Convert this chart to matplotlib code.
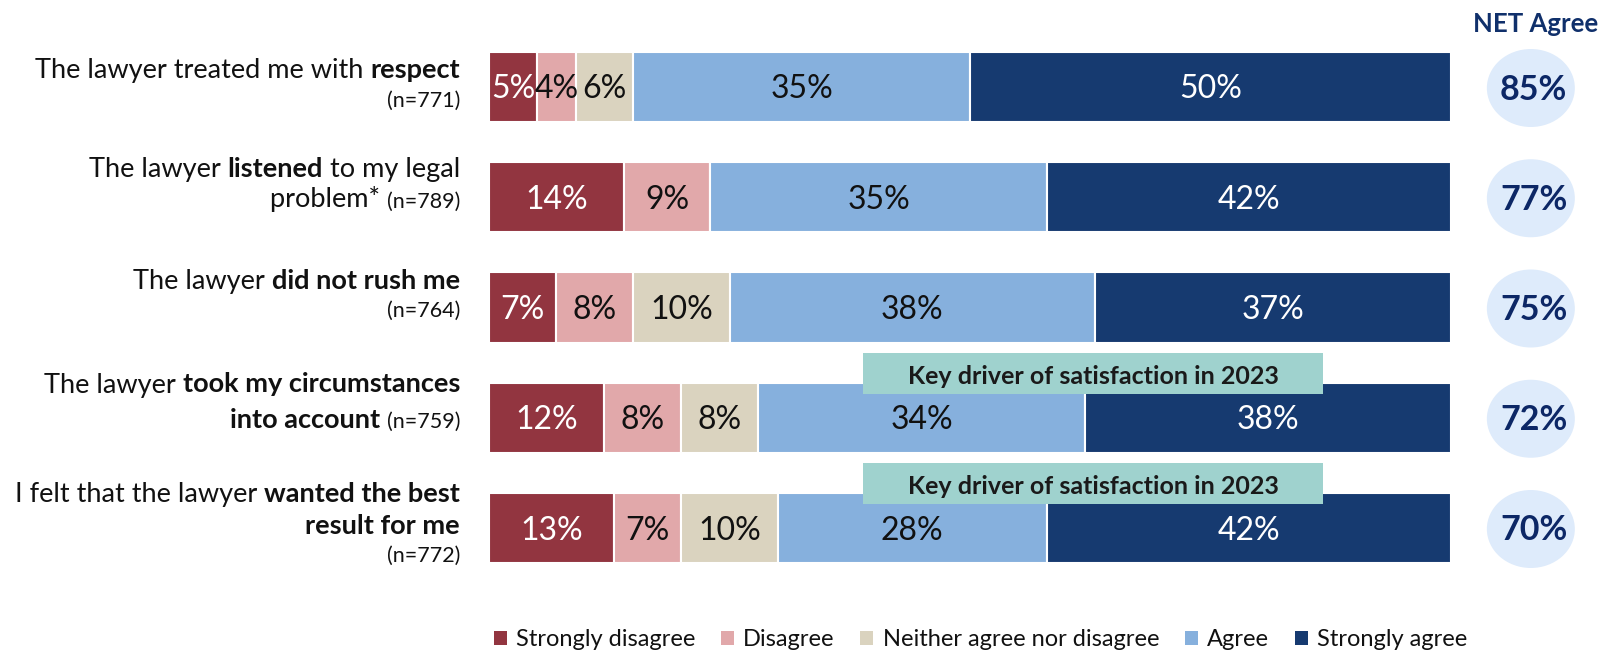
import matplotlib
matplotlib.use("Agg")
import matplotlib.pyplot as plt
from matplotlib.patches import Rectangle, Ellipse, Patch

plt.rcParams["font.family"] = ["Lato", "DejaVu Sans"]

# ---- data -------------------------------------------------------------
responses = ["Strongly disagree", "Disagree", "Neither agree nor disagree",
             "Agree", "Strongly agree"]
sample_sizes = [771, 789, 764, 759, 772]
strongly_disagree = [5, 14, 7, 12, 13]
disagree = [4, 9, 8, 8, 7]
neither = [6, 0, 10, 8, 10]
agree = [35, 35, 38, 34, 28]
strongly_agree = [50, 42, 37, 38, 42]
net_agree = [85, 77, 75, 72, 70]
key_driver_rows = [3, 4]
key_driver_text = "Key driver of satisfaction in 2023"

# statement labels: lines of (text, weight); sample size appended in small type
statements = [
    [[("The lawyer treated me with ", "normal"), ("respect", "bold")], []],
    [[("The lawyer ", "normal"), ("listened", "bold"), (" to my legal", "normal")],
     [("problem* ", "normal")]],
    [[("The lawyer ", "normal"), ("did not rush me", "bold")], []],
    [[("The lawyer ", "normal"), ("took my circumstances", "bold")],
     [("into account ", "bold")]],
    [[("I felt that the lawyer ", "normal"), ("wanted the best", "bold")],
     [("result for me", "bold")], []],
]

series = [strongly_disagree, disagree, neither, agree, strongly_agree]
colors = ["#923540", "#E1A8AA", "#DAD3BF", "#86B0DD", "#163A70"]
text_colors = ["white", "#111111", "#111111", "#111111", "white"]

# ---- layout -------------------------------------------------------------
W, H = 1610, 654
PITCH, TOP = 110.25, 87.0
fig = plt.figure(figsize=(W / 100, H / 100), dpi=100)
ax = fig.add_axes([489 / W, 0, 962 / W, 1])
ax.set_xlim(0, 100)
ax.set_ylim((H - TOP) / PITCH, -TOP / PITCH)
ax.axis("off")
px_y = 1 / PITCH          # one pixel in y data units
px_x = 100 / 962          # one pixel in x data units

rows = list(range(len(sample_sizes)))
left = [0] * len(rows)
for name, vals, col, tcol in zip(responses, series, colors, text_colors):
    ax.barh(rows, vals, left=left, height=0.635, color=col,
            edgecolor="white", linewidth=1.5, zorder=2)
    for r, v in enumerate(vals):
        if v > 0:
            ax.text(left[r] + v / 2, r + 11.5 * px_y, f"{v}%", ha="center",
                    va="baseline", fontsize=23, color=tcol, zorder=4)
    left = [a + b for a, b in zip(left, vals)]

# key driver banners
for r in key_driver_rows:
    ax.add_patch(Rectangle((38.9, r - 65 * px_y), 47.8, 41 * px_y,
                           facecolor="#9FD2CE", edgecolor="none", zorder=3))
    ax.text(38.9 + 47.8 / 2, r - 33.7 * px_y, key_driver_text, ha="center",
            va="baseline", fontsize=18, fontweight="bold", color="#1A1A1A",
            zorder=5)

# NET agree bubbles
for r, v in enumerate(net_agree):
    ax.add_patch(Ellipse((108.3, r + 1 * px_y), 88 * px_x, 78 * px_y,
                         facecolor="#DEEBFB", edgecolor="none", clip_on=False))
    ax.text(108.6, r + 12.5 * px_y, f"{v}%", ha="center", va="baseline",
            fontsize=24.5, fontweight="bold", color="#0C2766", clip_on=False)
fig.text(1535.5 / W, 1 - 31.7 / H, "NET Agree", ha="center", va="baseline",
         fontsize=18.5, fontweight="bold", color="#10306B")

# statement labels, right aligned, mixed weights
renderer = fig.canvas.get_renderer()
INK = "#111111"
LABEL_SIZE, SMALL_SIZE = 19.5, 15.5
LABEL_RIGHT = 460
baseline_offsets = [[-8.7, 20.0], [-20.75, 10.25], [-18.8, 9.2],
                    [-25.25, 10.25], [-26.0, 6.0, 34.0]]


def rich_line(segments, x_right, baseline):
    x = x_right
    for text, weight, size in reversed(segments):
        t = fig.text(x / W, 1 - baseline / H, text, ha="right", va="baseline",
                     fontsize=size, fontweight=weight, color=INK)
        x -= t.get_window_extent(renderer).width


for r, lines in enumerate(statements):
    center = TOP + r * PITCH
    for i, (line, off) in enumerate(zip(lines, baseline_offsets[r])):
        segs = [(t, w, LABEL_SIZE) for t, w in line]
        if i == len(lines) - 1:
            segs.append((f"(n={sample_sizes[r]})", "normal", SMALL_SIZE))
        rich_line(segs, LABEL_RIGHT, center + off)

# legend
handles = [Patch(facecolor=c, edgecolor="none", label=n)
           for c, n in zip(colors, responses)]
fig.legend(handles=handles, loc="center", bbox_to_anchor=(980.5 / W, 1 - 640 / H),
           ncol=5, frameon=False, fontsize=17, handlelength=0.55,
           handleheight=0.55, handletextpad=0.4, columnspacing=1.08,
           borderpad=0, labelcolor="#111111")

fig.savefig("out.png", dpi=100)
